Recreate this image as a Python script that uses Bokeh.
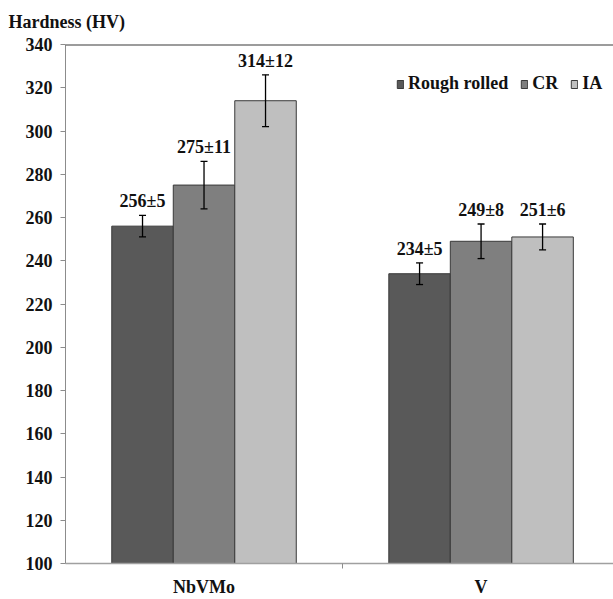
from bokeh.plotting import figure
from bokeh.models import (Range1d, FixedTicker, ColumnDataSource, Whisker, TeeHead,
                          Legend, LegendItem, Span)
from bokeh.core.properties import value
from bokeh.embed import file_html
from bokeh.resources import INLINE

# ---- data ----
categories = ["NbVMo", "V"]
series_names = ["Rough rolled", "CR", "IA"]
rough_rolled = [256, 234]
rough_rolled_err = [5, 5]
cr = [275, 249]
cr_err = [11, 8]
ia = [314, 251]
ia_err = [12, 6]
y_ticks = [100, 120, 140, 160, 180, 200, 220, 240, 260, 280, 300, 320, 340]
y_title = "Hardness (HV)"

values = [rough_rolled, cr, ia]
errors = [rough_rolled_err, cr_err, ia_err]

# ---- style ----
colors = ["#595959", "#7f7f7f", "#bfbfbf"]
offsets = [-0.222, 0.0, 0.222]
bar_w = 0.222
FONT = "Liberation Serif"
FS = "18px"
TXT = "#111111"
AXC = "#8c8c8c"

p = figure(width=613, height=599,
           x_range=Range1d(0, 1.978), y_range=Range1d(y_ticks[0], y_ticks[-1]),
           output_backend="svg", toolbar_location=None,
           min_border_left=65, min_border_right=0, min_border_top=43,
           min_border_bottom=32)
p.outline_line_color = None
p.xgrid.visible = False
p.ygrid.visible = False

p.title.text = y_title
p.title.text_font = FONT
p.title.text_font_size = FS
p.title.text_font_style = "bold"
p.title.text_color = TXT
p.title.align = "left"
p.title.vertical_align = "top"
p.title.offset = -57
p.title.standoff = 22

legend_items = []
for i, name in enumerate(series_names):
    xs = [j + 0.5 + offsets[i] for j in range(len(categories))]
    src = ColumnDataSource(dict(
        x=xs, top=values[i], err=errors[i],
        upper=[v + e for v, e in zip(values[i], errors[i])],
        lower=[v - e for v, e in zip(values[i], errors[i])],
        lbl=[f"{v}\u00b1{e}" for v, e in zip(values[i], errors[i])],
    ))
    r = p.vbar(x="x", top="top", bottom=0, width=bar_w, source=src,
               fill_color=colors[i], line_color="#3a3a3a", line_width=1)
    legend_items.append(LegendItem(label=name, renderers=[r]))
    w = Whisker(source=src, base="x", upper="upper", lower="lower",
                line_color="black", line_width=1.3, level="overlay",
                upper_head=TeeHead(size=7, line_color="black", line_width=1.3),
                lower_head=TeeHead(size=7, line_color="black", line_width=1.3))
    p.add_layout(w)
    p.text(x="x", y="upper", text="lbl", source=src, text_align="center",
           text_baseline="alphabetic", y_offset=-14,
           text_font=value(FONT), text_font_style="bold",
           text_font_size=FS, text_color=TXT)

p.add_layout(Span(location=y_ticks[-1], dimension="width",
                  line_color="#3a3a3a", line_width=2))

legend = Legend(items=legend_items, orientation="horizontal",
                location=(331, 469), padding=0, margin=0,
                border_line_color=None, background_fill_alpha=0,
                glyph_width=8, glyph_height=10, label_standoff=4, spacing=12,
                label_text_font=FONT, label_text_font_size=FS,
                label_text_font_style="bold", label_text_color=TXT)
p.add_layout(legend)

yax = p.yaxis[0]
yax.ticker = FixedTicker(ticks=y_ticks)
yax.axis_line_color = AXC
yax.major_tick_line_color = AXC
yax.major_tick_out = 5
yax.major_tick_in = 0
yax.minor_tick_line_color = None
yax.major_label_standoff = 8
yax.major_label_text_font = FONT
yax.major_label_text_font_size = FS
yax.major_label_text_font_style = "bold"
yax.major_label_text_color = TXT

xax = p.xaxis[0]
centers = [j + 0.5 for j in range(len(categories))]
bounds = [j + 1.0 for j in range(len(categories) - 1)]
xax.ticker = FixedTicker(ticks=centers, minor_ticks=bounds)
xax.major_label_overrides = {c: n for c, n in zip(centers, categories)}
xax.axis_line_color = "#a0a0a0"
xax.axis_line_width = 1.5
xax.major_tick_line_color = None
xax.major_tick_out = 0
xax.major_tick_in = 0
xax.minor_tick_line_color = AXC
xax.minor_tick_out = 5
xax.minor_tick_in = 0
xax.major_label_standoff = 8
xax.major_label_text_font = FONT
xax.major_label_text_font_size = FS
xax.major_label_text_font_style = "bold"
xax.major_label_text_color = TXT

open("out.html", "w").write(file_html(p, INLINE))
